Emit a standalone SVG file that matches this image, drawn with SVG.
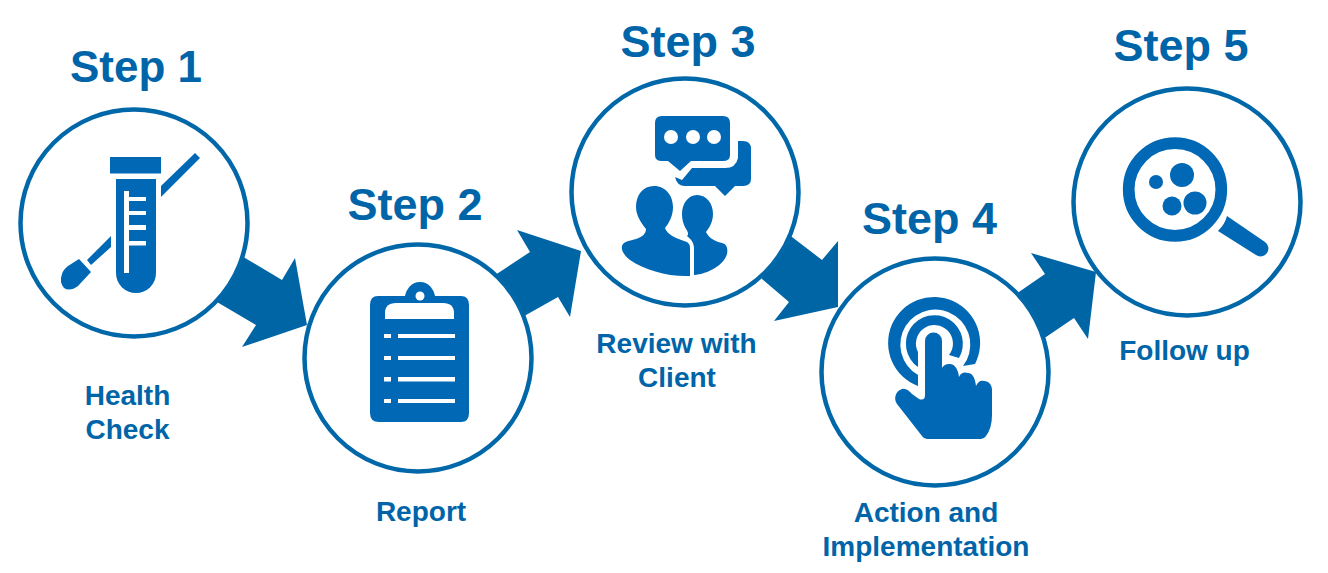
<svg xmlns="http://www.w3.org/2000/svg" width="1328" height="573" viewBox="0 0 1328 573">
<style>
.ring{fill:#fff;stroke:#0067a8;stroke-width:4.5}
.arrow{fill:#0065a5}
.icon{fill:#0068b5}
.cut{fill:#fff}
.title{font:bold 45px "Liberation Sans",Arial,sans-serif;fill:#0065a8;text-anchor:middle}
.label{font:bold 28px "Liberation Sans",Arial,sans-serif;fill:#0065a8;text-anchor:middle}
</style>
<rect width="1328" height="573" fill="#fff"/>
<g id="connectors">
<polygon class="arrow" points="245,258 282,280 295,258 307,325 242,347 256,325 200,292 225,240"/>
<polygon class="arrow" points="480,285 530,252 517,230 581,251 570,317 558,297 526,315 500,330"/>
<polygon class="arrow" points="792,237 822,260 838,241 838,307 774,321 789,302 762,279 770,220"/>
<polygon class="arrow" points="1000,305 1045,274 1031,253 1096,272 1088,339 1074,318 1046,337 1020,350"/>
</g>
<g id="step1">
<circle class="ring" cx="134" cy="223" r="113.500"/>
<text class="title" x="136" y="82" style="font-size:44px">Step 1</text>
<text class="label" x="127.500" y="405">Health</text>
<text class="label" x="127.500" y="439">Check</text>
<rect class="icon" x="110" y="157" width="51" height="16.500"/>
<path class="icon" d="M116 179H156V273A20 20 0 0 1 116 273Z"/>
<path class="cut" d="M124 191H129V197H146V201H129V211H146V215H129V225H146V230H129V241H146V245.500H129V273H124Z"/>
<polygon class="icon" points="161,186 195,153 200,158 161,197"/>
<polygon class="icon" points="111,236 111,247 91,265 87,260"/>
<path class="icon" d="M79 259L91 272 78 286Q70 292 64 288 59 282 62 274 63 270 68 266Z"/>
</g>
<g id="step2">
<circle class="ring" cx="418" cy="358" r="113.500"/>
<text class="title" x="415" y="220">Step 2</text>
<text class="label" x="421" y="521">Report</text>
<path class="icon" d="M378 296H405C406 290 411 282 420 282S434 290 435 296H461Q469 296 469 305V413Q469 422 461 422H379Q370 422 370 413V305Q370 296 378 296Z"/>
<circle class="cut" cx="420" cy="296" r="4.500"/>
<path class="cut" d="M385 319V313Q385 303 396 303H443Q454 303 454 313V319Z"/>
<g class="cut">
<rect x="384" y="334" width="7" height="4"/><rect x="398" y="334" width="57" height="4"/>
<rect x="384" y="356" width="7" height="4"/><rect x="398" y="356" width="57" height="4"/>
<rect x="384" y="377" width="7" height="4.500"/><rect x="398" y="377" width="57" height="4.500"/>
<rect x="384" y="399" width="7" height="4"/><rect x="398" y="399" width="57" height="4"/>
</g>
</g>
<g id="step3">
<circle class="ring" cx="685" cy="192" r="113.500"/>
<text class="title" x="688" y="57">Step 3</text>
<text class="label" x="676.500" y="353">Review with</text>
<text class="label" x="677" y="387">Client</text>
<path class="icon" d="M662 116H723Q730 116 730 123V155Q730 161 723 161H691L680 171 668 161H662Q655 161 655 155V123Q655 116 662 116Z"/>
<circle class="cut" cx="671" cy="137" r="7"/><circle class="cut" cx="693" cy="137" r="7"/><circle class="cut" cx="714" cy="137" r="7"/>
<path class="icon" d="M738 141H743Q751 141 751 149V179Q751 186 743 186H735L725 196 715 186H685Q677 186 675 177L682 180 692 168H725Q736 168 738 158Z"/>
<path class="icon" d="M654 186C666 186 673 196 673 207C673 216 669 223 665 228C667 234 675 238 684 241C688 242 690 244 690 248V276C668 277 645 270 630 260C624 255 621 251 622 246C623 242 628 241 636 239C642 237 646 234 646 229C640 222 636 214 636 207C636 195 643 186 654 186Z"/>
<path class="icon" d="M697 195C707 195 713 204 713 214C713 221 710 227 706 232C708 237 714 241 722 243C727 244 728 249 727 254C724 265 708 274 694 275V248C694 243 691 239 687 236C689 234 688 232 686 229C683 224 682 219 682 214C682 204 688 195 697 195Z"/>
</g>
<g id="step4">
<circle class="ring" cx="935" cy="372" r="113.500"/>
<text class="title" x="929.500" y="234">Step 4</text>
<text class="label" x="926" y="522">Action and</text>
<text class="label" x="926" y="556">Implementation</text>
<path class="icon" d="M918 386A46 46 0 1 1 975 364L963 366A35 35 0 1 0 918 375Z"/>
<path class="icon" d="M918 367A28.500 28.500 0 1 1 959 358L949 355A18.500 18.500 0 1 0 918 352Z"/>
<path class="icon" d="M925 341A8.500 8.500 0 0 1 942 341V368C944 364 948 364 950 364C954 364 958 368 959 377C961 372 965 372 968 373C972 373 975 377 976 386C978 381 981 380 984 381C989 381 992 385 992 390V415Q992 428 986 436Q984 439 981 439H927Q924 439 922 436L897 404C893 398 896 391 902 389C906 388 909 391 912 394L919 399Q925 401 925 395Z"/>
</g>
<g id="step5">
<circle class="ring" cx="1187" cy="202" r="113.500"/>
<text class="title" x="1181" y="61">Step 5</text>
<text class="label" x="1184.500" y="360">Follow up</text>
<circle cx="1175" cy="189.500" r="46.300" fill="none" stroke="#0068b5" stroke-width="11.700"/>
<circle class="icon" cx="1182" cy="175" r="12"/>
<circle class="icon" cx="1156" cy="182" r="7"/>
<circle class="icon" cx="1172" cy="206" r="9.500"/>
<circle class="icon" cx="1195" cy="203" r="11.500"/>
<path class="icon" d="M1227 216L1265 242A7.500 7.500 0 0 1 1256 255L1218 231Q1225 224 1227 216Z"/>
</g>
</svg>
